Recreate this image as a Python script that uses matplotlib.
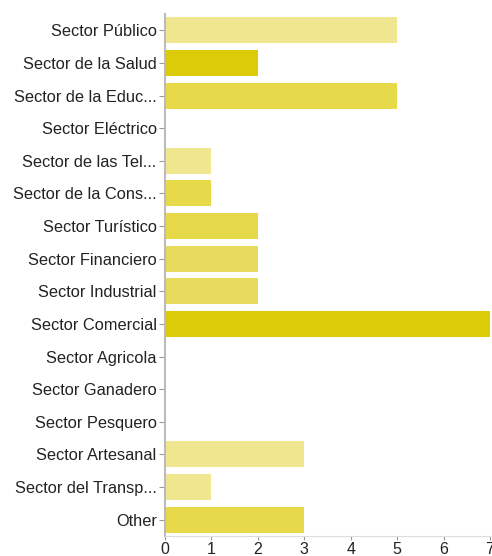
import matplotlib.pyplot as plt
import numpy as np

plt.rcParams['font.family'] = ['Liberation Sans', 'DejaVu Sans']

sectores = ["Sector Público", "Sector de la Salud", "Sector de la Educ...",
            "Sector Eléctrico", "Sector de las Tel...", "Sector de la Cons...",
            "Sector Turístico", "Sector Financiero", "Sector Industrial",
            "Sector Comercial", "Sector Agricola", "Sector Ganadero",
            "Sector Pesquero", "Sector Artesanal", "Sector del Transp...",
            "Other"]
respuestas = [5, 2, 5, 0, 1, 1, 2, 2, 2, 7, 0, 0, 0, 3, 1, 3]

claro = "#efe68f"
medio = "#e6d94a"
medio_claro = "#e7db5e"
oscuro = "#dccb08"
colores = [claro, oscuro, medio, claro, claro, medio, medio, medio_claro,
           medio_claro, oscuro, claro, claro, claro, claro, claro, medio]

fig = plt.figure(figsize=(4.92, 5.56), dpi=100)
ax = fig.add_axes([165/492, 1 - 536/556, 325/492, (536 - 14)/556])

y = np.arange(len(sectores))
ax.barh(y, respuestas, height=0.8, color=colores, edgecolor='none')

ax.set_ylim(len(sectores) - 0.5, -0.5)
ax.set_xlim(0, 7)
ax.set_yticks(y)
ax.set_yticklabels(sectores, fontsize=11.8, color="#222222")
ax.set_xticks(range(8))
ax.tick_params(axis='x', labelsize=11.5, colors="#999999", labelcolor="#222222",
               length=3, width=0.8, pad=1)
ax.tick_params(axis='y', colors="#999999", labelcolor="#222222",
               length=4, width=0.8, pad=2)

for s in ["top", "right"]:
    ax.spines[s].set_visible(False)
ax.spines["left"].set_color("#bbbbbb")
ax.spines["left"].set_linewidth(1.5)
ax.spines["bottom"].set_color("#dddddd")
ax.spines["bottom"].set_linewidth(0.8)

fig.savefig("out.png", dpi=100)
